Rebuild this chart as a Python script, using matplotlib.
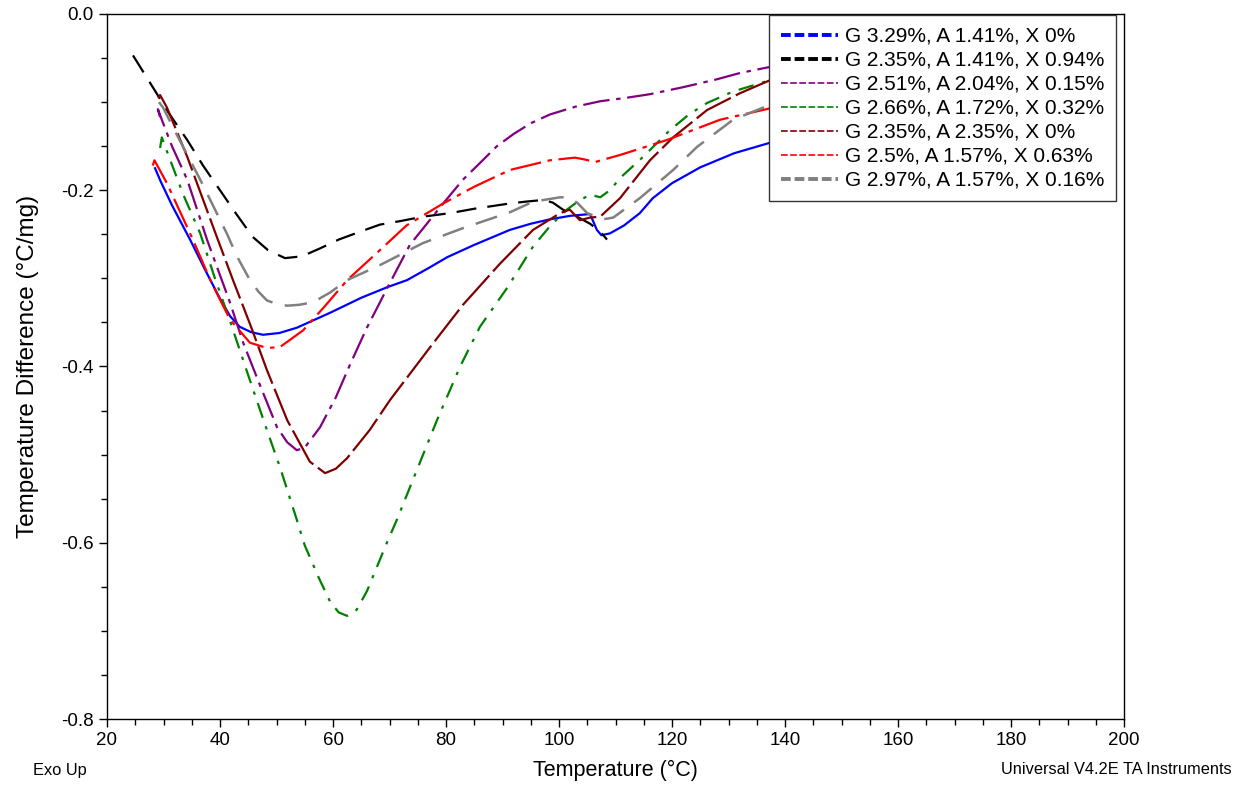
import matplotlib
matplotlib.use('Agg')
import matplotlib.pyplot as plt
from matplotlib.lines import Line2D
from matplotlib.ticker import MultipleLocator

OUT_FILENAME = 'out.png'

plt.rcParams['font.family'] = ['Liberation Sans', 'DejaVu Sans']
plt.rcParams['axes.unicode_minus'] = False

labels = ['G 3.29%, A 1.41%, X 0%',
          'G 2.35%, A 1.41%, X 0.94%',
          'G 2.51%, A 2.04%, X 0.15%',
          'G 2.66%, A 1.72%, X 0.32%',
          'G 2.35%, A 2.35%, X 0%',
          'G 2.5%, A 1.57%, X 0.63%',
          'G 2.97%, A 1.57%, X 0.16%']

# blue
t1 = [28.5, 29.5, 31.5, 34.7, 37.5, 40.0, 41.8, 43.5, 45.5, 47.6, 50.5, 53.6, 59.5, 65.0, 69.6,
      73.1, 77.0, 80.2, 85.0, 91.3, 95.0, 98.4, 102.0, 105.5, 106.7, 107.5, 109.0, 111.5, 114.3,
      116.6, 120.0, 125.0, 131.0, 137.4, 145.0]
d1 = [-0.175, -0.190, -0.217, -0.256, -0.292, -0.323, -0.343, -0.355, -0.361, -0.364, -0.362,
      -0.356, -0.339, -0.322, -0.310, -0.302, -0.288, -0.276, -0.262, -0.245, -0.238, -0.233,
      -0.229, -0.227, -0.245, -0.251, -0.249, -0.240, -0.226, -0.209, -0.192, -0.174, -0.158,
      -0.146, -0.132]

# black
t2 = [24.6, 28.1, 31.0, 34.2, 37.0, 40.0, 43.0, 45.8, 48.5, 51.5, 54.5, 57.7, 61.0, 64.8, 68.3,
      71.9, 75.9, 80.7, 85.0, 91.3, 94.0, 97.2, 98.9, 100.7, 103.2, 105.5, 107.3, 108.5]
d2 = [-0.047, -0.083, -0.113, -0.143, -0.172, -0.200, -0.228, -0.253, -0.268, -0.277, -0.275,
      -0.266, -0.256, -0.247, -0.239, -0.235, -0.230, -0.226, -0.221, -0.215, -0.213, -0.211,
      -0.214, -0.222, -0.230, -0.238, -0.247, -0.256]

# purple
t3 = [29.4, 29.0, 30.0, 31.5, 34.2, 37.7, 41.8, 44.1, 47.0, 50.1, 51.9, 53.6, 55.0, 57.7, 60.5,
      63.0, 66.0, 69.6, 73.6, 79.5, 83.0, 86.5, 89.0, 92.0, 95.0, 98.4, 103.0, 107.3, 112.0,
      116.1, 122.0, 128.0, 132.0, 137.4, 145.0]
d3 = [-0.117, -0.108, -0.125, -0.150, -0.188, -0.256, -0.328, -0.373, -0.420, -0.469, -0.486,
      -0.495, -0.492, -0.469, -0.435, -0.398, -0.356, -0.311, -0.262, -0.215, -0.188, -0.166,
      -0.150, -0.136, -0.124, -0.114, -0.105, -0.099, -0.095, -0.091, -0.083, -0.074, -0.067,
      -0.060, -0.052]

# green
t4 = [29.4, 29.7, 31.2, 33.5, 36.5, 39.0, 41.8, 45.0, 48.3, 50.6, 53.6, 55.0, 57.5, 59.5, 61.0,
      62.5, 64.2, 66.0, 67.8, 69.6, 71.3, 75.0, 78.4, 82.5, 86.0, 90.8, 95.4, 98.5, 101.4, 103.5,
      105.5, 107.3, 109.0, 111.0, 114.9, 119.6, 123.0, 126.2, 130.8, 137.4, 145.0]
d4 = [-0.152, -0.140, -0.166, -0.205, -0.249, -0.298, -0.349, -0.410, -0.472, -0.514, -0.574,
      -0.603, -0.640, -0.667, -0.679, -0.683, -0.676, -0.655, -0.627, -0.599, -0.574, -0.515,
      -0.461, -0.400, -0.355, -0.311, -0.264, -0.240, -0.222, -0.212, -0.205, -0.208, -0.200,
      -0.185, -0.162, -0.132, -0.114, -0.101, -0.088, -0.075, -0.062]

# maroon
t5 = [29.0, 29.4, 30.6, 34.2, 39.5, 42.3, 45.5, 48.3, 51.9, 55.9, 58.6, 60.5, 62.5, 66.5, 70.1,
      77.2, 83.0, 89.6, 95.4, 100.2, 101.9, 103.7, 105.5, 107.3, 110.8, 116.1, 120.2, 126.2,
      132.0, 137.4, 145.0]
d5 = [-0.095, -0.092, -0.106, -0.162, -0.254, -0.302, -0.355, -0.404, -0.461, -0.508, -0.521,
      -0.516, -0.504, -0.472, -0.438, -0.378, -0.330, -0.283, -0.245, -0.226, -0.222, -0.234,
      -0.231, -0.230, -0.209, -0.166, -0.140, -0.109, -0.090, -0.075, -0.062]

# red
t6 = [28.1, 28.4, 30.6, 35.2, 38.5, 41.8, 45.3, 48.3, 50.6, 54.7, 58.5, 62.5, 68.3, 73.0, 79.5,
      85.0, 91.3, 98.4, 102.8, 104.5, 106.4, 108.0, 110.8, 119.1, 128.5, 137.4, 145.0]
d6 = [-0.172, -0.166, -0.192, -0.256, -0.305, -0.347, -0.373, -0.379, -0.378, -0.359, -0.332,
      -0.302, -0.268, -0.240, -0.215, -0.196, -0.177, -0.166, -0.163, -0.165, -0.168, -0.165,
      -0.160, -0.143, -0.120, -0.107, -0.096]

# gray
t7 = [29.2, 29.9, 33.0, 36.5, 41.2, 43.0, 45.3, 46.8, 48.3, 50.0, 51.9, 54.0, 56.5, 59.5, 62.5,
      68.3, 75.9, 83.0, 91.3, 95.4, 100.2, 101.4, 103.2, 105.0, 107.8, 109.6, 114.3, 120.2, 124.4,
      130.8, 137.4, 145.0]
d7 = [-0.100, -0.106, -0.145, -0.188, -0.249, -0.275, -0.302, -0.315, -0.325, -0.329, -0.331,
      -0.330, -0.327, -0.316, -0.302, -0.285, -0.260, -0.243, -0.225, -0.213, -0.208, -0.208,
      -0.214, -0.226, -0.233, -0.231, -0.209, -0.177, -0.151, -0.120, -0.103, -0.092]

series = [(t1, d1), (t2, d2), (t3, d3), (t4, d4), (t5, d5), (t6, d6), (t7, d7)]
colors = ['#0000ff', '#000000', '#800080', '#008000', '#800000', '#ff0000', '#808080']
styles = ['-', (0, (9, 5)), (0, (12, 3, 2, 3)), (0, (7, 4, 1.5, 4)), (0, (18, 2.5)),
          (0, (14, 3, 2, 3)), (0, (9, 5))]
widths = [1.6, 1.6, 1.6, 1.6, 1.6, 1.6, 1.8]

fig = plt.figure(figsize=(12.46, 7.88), dpi=100)
ax = fig.add_axes([107 / 1246, 1 - 719 / 788, 1017 / 1246, 705 / 788])

for (t, d), c, ls, lw in zip(series, colors, styles, widths):
  ax.plot(t, d, color=c, linestyle=ls, linewidth=lw)

ax.set_xlim(20, 200)
ax.set_ylim(-0.8, 0.0)
ax.xaxis.set_major_locator(MultipleLocator(20))
ax.xaxis.set_minor_locator(MultipleLocator(5))
ax.yaxis.set_major_locator(MultipleLocator(0.2))
ax.yaxis.set_minor_locator(MultipleLocator(0.05))
ax.yaxis.set_major_formatter(plt.FuncFormatter(lambda v, p: '%.1f' % v if abs(v) > 1e-9 else '0.0'))
ax.tick_params(which='major', direction='out', length=6, width=1, labelsize=13.5)
ax.tick_params(which='minor', direction='out', length=4, width=1)
for s in ax.spines.values():
  s.set_linewidth(1)

ax.set_xlabel('Temperature (°C)', fontsize=15.5, labelpad=8)
ax.set_ylabel('Temperature Difference (°C/mg)', fontsize=17.5)
ax.yaxis.set_label_coords(-0.067, 0.5)

thick = (0, (2.5, 1))
handles = [Line2D([], [], color=colors[0], lw=2.8, linestyle=thick),
           Line2D([], [], color=colors[1], lw=2.8, linestyle=thick),
           Line2D([], [], color=colors[2], lw=1.2, linestyle=(0, (4, 1.5))),
           Line2D([], [], color=colors[3], lw=1.2, linestyle=(0, (4, 1.5))),
           Line2D([], [], color=colors[4], lw=1.2, linestyle=(0, (4, 1.5))),
           Line2D([], [], color=colors[5], lw=1.2, linestyle=(0, (4, 1.5))),
           Line2D([], [], color=colors[6], lw=2.8, linestyle=thick)]
leg = ax.legend(handles, labels, loc='upper left', bbox_to_anchor=(0.651, 0.998),
                fontsize=15, frameon=True, fancybox=False, framealpha=1,
                edgecolor='#333333', handlelength=2.75, handletextpad=0.35,
                labelspacing=0.24, borderpad=0.55, borderaxespad=0)
leg.get_frame().set_linewidth(1)

fig.text(33 / 1246, 1 - 770 / 788, 'Exo Up', fontsize=11.8, va='center', ha='left')
fig.text(1232 / 1246, 1 - 770 / 788, 'Universal V4.2E TA Instruments', fontsize=11.8,
         va='center', ha='right')

fig.savefig(OUT_FILENAME, dpi=100)
print("Chart written to " + OUT_FILENAME)
